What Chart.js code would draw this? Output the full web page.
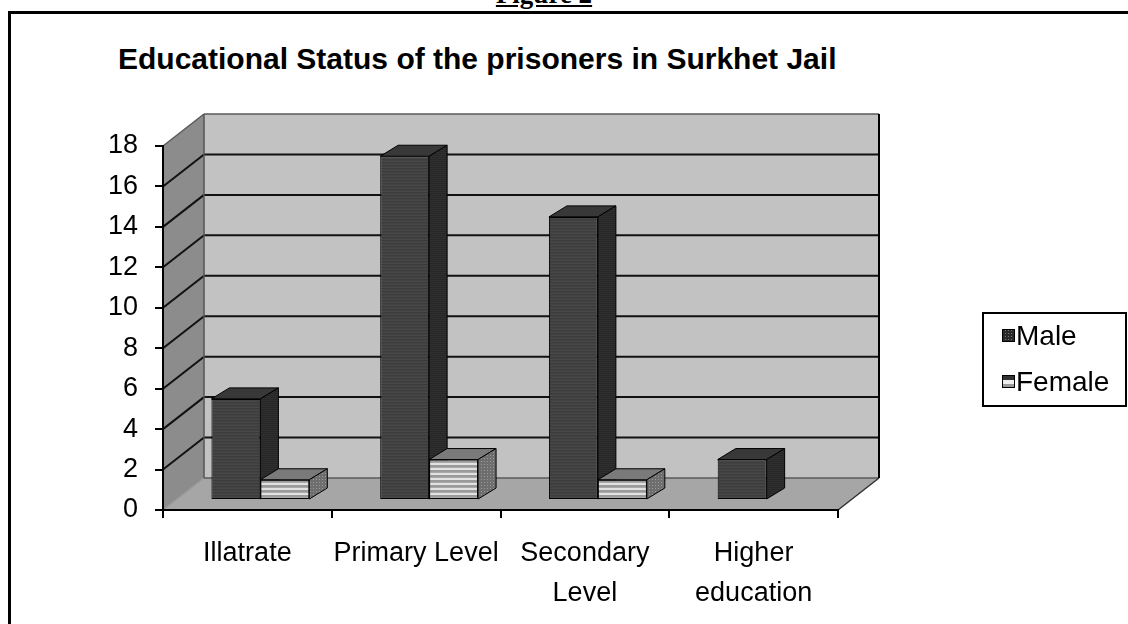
<!DOCTYPE html>
<html>
<head>
<meta charset="utf-8">
<title>Educational Status of the prisoners in Surkhet Jail</title>
<script src="https://cdn.jsdelivr.net/npm/chart.js@4.4.1/dist/chart.umd.min.js"></script>
<style>
  html, body { margin: 0; padding: 0; background: #fff; overflow: hidden; }
  body { width: 1128px; height: 624px; position: relative; font-family: "Liberation Sans", Arial, sans-serif; }
  #frame { position: absolute; left: 8px; top: 11px; width: 1200px; height: 700px; border: 3px solid #000; }
  #fig { position: absolute; left: 444px; width: 200px; top: -21px; text-align: center;
         font: bold 27px "Liberation Serif", serif; text-decoration: underline; }
  #title { position: absolute; left: 118px; top: 42px; font: bold 30px "Liberation Sans", Arial, sans-serif; color: #000; white-space: nowrap; }
  #chart { position: absolute; left: 0; top: 0; }
</style>
</head>
<body>
<div id="fig">Figure 2</div>
<div id="frame"></div>
<div id="title">Educational Status of the prisoners in Surkhet Jail</div>
<canvas id="chart" width="1128" height="624"></canvas>
<script>
// data
var categories = ['Illatrate', 'Primary Level', ['Secondary', 'Level'], ['Higher', 'education']];
var maleCount = [5, 17, 14, 2];
var femaleCount = [1, 2, 1, 0];
var yMax = 18;
var yStep = 2;

// 3D look: walls go back by wallDepth, bars stand half way back
var wallDepth = { x: 41, y: -32 };
var barShift = { x: 13, y: -10 };
var barDepth = { x: 18, y: -11 };

function stripes(rows) {
    var c = document.createElement('canvas');
    c.width = 4;
    c.height = rows.length;
    var g = c.getContext('2d');
    for (var i = 0; i < rows.length; i++) {
        g.fillStyle = rows[i];
        g.fillRect(0, i, 4, 1);
    }
    return g.createPattern(c, 'repeat');
}

function dots(bg, fg) {
    var c = document.createElement('canvas');
    c.width = 3;
    c.height = 3;
    var g = c.getContext('2d');
    g.fillStyle = bg;
    g.fillRect(0, 0, 3, 3);
    g.fillStyle = fg;
    g.fillRect(0, 0, 1, 1);
    return g.createPattern(c, 'repeat');
}

var maleFront = stripes(['#474747', '#3c3c3c', '#424242']);
var maleTop = '#383838';
var maleSide = stripes(['#2f2f2f', '#272727']);
var femaleFront = stripes(['#9a9a9a', '#9a9a9a', '#a8a8a8', '#e2e2e2', '#e2e2e2']);
var femaleTop = '#7a7a7a';
var femaleSide = dots('#6e6e6e', '#9a9a9a');

function poly(ctx, pts, fill, stroke, lw) {
    ctx.beginPath();
    ctx.moveTo(pts[0][0], pts[0][1]);
    for (var i = 1; i < pts.length; i++) ctx.lineTo(pts[i][0], pts[i][1]);
    ctx.closePath();
    if (fill) { ctx.fillStyle = fill; ctx.fill(); }
    if (stroke) { ctx.strokeStyle = stroke; ctx.lineWidth = lw || 1; ctx.stroke(); }
}

function line(ctx, x1, y1, x2, y2, col, lw) {
    ctx.beginPath();
    ctx.moveTo(x1, y1);
    ctx.lineTo(x2, y2);
    ctx.strokeStyle = col;
    ctx.lineWidth = lw;
    ctx.stroke();
}

var box3d = {
    id: 'box3d',
    beforeDraw: function (chart) {
        var ctx = chart.ctx, a = chart.chartArea, y = chart.scales.y;
        var dx = wallDepth.x, dy = wallDepth.y;
        ctx.save();
        // side wall, back wall, floor
        poly(ctx, [[a.left, a.bottom], [a.left, a.top], [a.left + dx, a.top + dy], [a.left + dx, a.bottom + dy]], '#8c8c8c');
        poly(ctx, [[a.left + dx, a.top + dy], [a.right + dx, a.top + dy], [a.right + dx, a.bottom + dy], [a.left + dx, a.bottom + dy]], '#c2c2c2');
        poly(ctx, [[a.left, a.bottom], [a.right, a.bottom], [a.right + dx, a.bottom + dy], [a.left + dx, a.bottom + dy]], '#a6a6a6');
        // gridlines on side and back walls
        y.ticks.forEach(function (t) {
            var py = y.getPixelForValue(t.value);
            var edge = (t.value === 0 || t.value === yMax);
            var col = edge ? '#5a5a5a' : '#111';
            line(ctx, a.left, py, a.left + dx, py + dy, t.value === 0 ? '#9a9a9a' : col, edge ? 1.5 : 2);
            line(ctx, a.left + dx, py + dy, a.right + dx, py + dy, col, edge ? 1.5 : 2);
        });
        line(ctx, a.left + dx, a.top + dy, a.left + dx, a.bottom + dy, '#555', 1.5);
        line(ctx, a.right + dx, a.top + dy, a.right + dx, a.bottom + dy, '#000', 2);
        line(ctx, a.right, a.bottom, a.right + dx, a.bottom + dy, '#333', 1.5);
        ctx.restore();
    },
    beforeDatasetsDraw: function (chart) {
        chart.ctx.save();
        chart.ctx.translate(barShift.x, barShift.y);
    },
    afterDatasetsDraw: function (chart) {
        // top and right faces, series by series so each bar covers the one on its left
        var ctx = chart.ctx;
        chart.data.datasets.forEach(function (ds, di) {
            var meta = chart.getDatasetMeta(di);
            meta.data.forEach(function (bar, i) {
                if (!ds.data[i]) return;
                if (di > 0) bar.draw(ctx);
                var p = bar.getProps(['x', 'y', 'base', 'width'], true);
                var l = p.x - p.width / 2, r = p.x + p.width / 2, t = p.y, b = p.base;
                var bx = barDepth.x, by = barDepth.y;
                poly(ctx, [[l, t], [r, t], [r + bx, t + by], [l + bx, t + by]], di === 0 ? maleTop : femaleTop, '#000', 1);
                poly(ctx, [[r, t], [r, b], [r + bx, b + by], [r + bx, t + by]], di === 0 ? maleSide : femaleSide, '#000', 1);
            });
        });
        ctx.restore();
    },
    afterDraw: function (chart) {
        var ctx = chart.ctx;
        ctx.save();
        // legend box
        ctx.fillStyle = '#fff';
        ctx.fillRect(983, 313, 143, 93);
        ctx.strokeStyle = '#000';
        ctx.lineWidth = 2;
        ctx.strokeRect(983, 313, 143, 93);
        var rows = [336, 382];
        chart.data.datasets.forEach(function (ds, i) {
            var my = rows[i];
            if (i === 0) {
                ctx.fillStyle = dots('#2a2a2a', '#777');
                ctx.fillRect(1002, my - 6, 12, 12);
            } else {
                ctx.fillStyle = '#333';
                ctx.fillRect(1002, my - 6, 12, 12);
                ctx.fillStyle = '#eee';
                ctx.fillRect(1002, my - 2, 12, 4);
                ctx.fillStyle = '#999';
                ctx.fillRect(1002, my + 2, 12, 4);
            }
            ctx.strokeStyle = '#000';
            ctx.lineWidth = 1;
            ctx.strokeRect(1002.5, my - 6.5, 12, 12);
            ctx.fillStyle = '#000';
            ctx.font = '28px "Liberation Sans"';
            ctx.textBaseline = 'middle';
            ctx.textAlign = 'left';
            ctx.fillText(ds.label, 1016, my + 1);
        });
        ctx.restore();
    }
};

Chart.defaults.font.family = '"Liberation Sans", Arial, sans-serif';
Chart.defaults.color = '#000';

var ctx = document.getElementById('chart').getContext('2d');
var chart = new Chart(ctx, {
    type: 'bar',
    data: {
        labels: categories,
        datasets: [{
            label: 'Male',
            data: maleCount,
            backgroundColor: maleFront,
            borderColor: '#000',
            borderWidth: function (c) { return c.raw ? 1 : 0; },
            borderSkipped: false,
            categoryPercentage: 0.58,
            barPercentage: 1,
            clip: false
        }, {
            label: 'Female',
            data: femaleCount,
            backgroundColor: femaleFront,
            borderColor: '#000',
            borderWidth: function (c) { return c.raw ? 1 : 0; },
            borderSkipped: false,
            categoryPercentage: 0.58,
            barPercentage: 1,
            clip: false
        }]
    },
    options: {
        responsive: false,
        animation: false,
        devicePixelRatio: 1,
        layout: { padding: { left: 0, top: 146, right: 290, bottom: 0 } },
        plugins: {
            legend: { display: false },
            tooltip: { enabled: false }
        },
        scales: {
            x: {
                grid: { offset: true, drawOnChartArea: false, color: '#000', lineWidth: 2, tickLength: 8 },
                border: { color: '#000', width: 2 },
                ticks: { font: { size: 27, lineHeight: 1.5 }, padding: 15, maxRotation: 0, autoSkip: false },
                afterFit: function (s) { s.height = 114; }
            },
            y: {
                min: 0,
                max: yMax,
                grid: { drawOnChartArea: false, color: '#000', lineWidth: 2, tickLength: 8 },
                border: { color: '#000', width: 2 },
                ticks: { stepSize: yStep, font: { size: 27 }, padding: 17 },
                afterFit: function (s) { s.width = 163; }
            }
        }
    },
    plugins: [box3d]
});
</script>
</body>
</html>
